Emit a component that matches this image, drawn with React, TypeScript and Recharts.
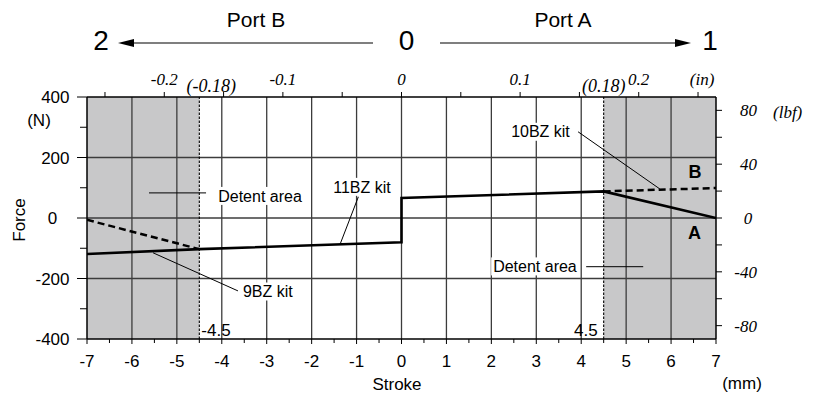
import React from "react";
import {
  ComposedChart,
  Line,
  XAxis,
  YAxis,
  ReferenceArea,
  ReferenceLine,
  ReferenceDot,
} from "recharts";

const W = 821;
const H = 394;
// plot frame
const PL = 87;
const PR = 716;
const PT = 97;
const PB = 339;
const SANS = "'Liberation Sans', Arial, Helvetica, sans-serif";
const SERIF = "'Liberation Serif', 'Times New Roman', serif";
const N_PER_LBF = 4.448;
const MM_PER_IN = 26.4; // inch scale as printed on the sheet (a bit stretched)

// curves (stroke in mm, force in N)
const mainStroke = [-7, -4.5, 0, 0, 4.5, 7];
const mainForce = [-119, -103, -80, 66, 88, 0];
const kit9Stroke = [-7, -4.5];
const kit9Force = [-6, -103];
const kit10Stroke = [4.5, 7];
const kit10Force = [88, 99];

const detentFrom = [-7, 4.5];
const detentTo = [-4.5, 7];
const detentLimits = [-4.5, 4.5];
const detentLimitInch = ["(-0.18)", "(0.18)"];
const detentLimitMm = ["-4.5", "4.5"];

// axes
const strokeTicks = [
  -7, -6.5, -6, -5.5, -5, -4.5, -4, -3.5, -3, -2.5, -2, -1.5, -1, -0.5, 0,
  0.5, 1, 1.5, 2, 2.5, 3, 3.5, 4, 4.5, 5, 5.5, 6, 6.5, 7,
];
const forceTicks = [-400, -300, -200, -100, 0, 100, 200, 300, 400];
const lbfTicks = [-80, -60, -40, -20, 0, 20, 40, 60, 80];
const inchTicks = [-0.25, -0.2, -0.15, -0.1, -0.05, 0, 0.05, 0.1, 0.15, 0.2, 0.25];
const inchLabels = ["", "-0.2", "", "-0.1", "", "0", "", "0.1", "", "0.2", "(in)"];
const gridStroke = [-6, -5, -4, -3, -2, -1, 0, 1, 2, 3, 4, 5, 6];
const gridForce = [-200, 0, 200];

// callouts
const noteText = ["Detent area", "11BZ kit", "9BZ kit", "10BZ kit", "Detent area"];
const noteAt = [[-4.08, 73], [-1.52, 103], [-3.53, -243], [2.44, 285], [2.04, -160]];
const leaderFrom = [[-5.62, 83], [-0.96, 70], [-5.53, -115], [3.93, 285], [4.11, -161]];
const leaderTo = [[-4.35, 83], [-1.37, -88], [-3.64, -241], [5.75, 96], [5.38, -161]];
const curveNames = ["B", "A"];
const curveNameAt = [[6.53, 154], [6.52, -48]];

const toPoints = (xs: number[], ys: number[]) => xs.map((x, i) => ({ x, y: ys[i] }));

const topTickInfo = [
  ...inchTicks.map((v, i) => ({ mm: Math.round(v * MM_PER_IN * 1000) / 1000, label: inchLabels[i], mark: true })),
  ...detentLimits.map((mm, i) => ({ mm, label: detentLimitInch[i], mark: false })),
].sort((a, b) => a.mm - b.mm);
const topTickValues = topTickInfo.map((t) => t.mm);

const BottomTick = (p: any) => {
  const cx = p.payload.coordinate;
  const v = p.payload.value;
  const major = Number.isInteger(v);
  return (
    <g>
      <line x1={cx} x2={cx} y1={PB} y2={PB + (major ? 5 : 4)} stroke="#000" />
      {major && (
        <text x={cx} y={367} textAnchor="middle" fontSize={17} fontFamily={SANS} fill="#000">
          {v}
        </text>
      )}
    </g>
  );
};

const LeftTick = (p: any) => {
  const cy = p.payload.coordinate;
  const v = p.payload.value;
  const major = v % 200 === 0;
  return (
    <g>
      <line x1={PL - (major ? 10 : 7)} x2={PL} y1={cy} y2={cy} stroke="#000" />
      {major && (
        <text
          x={v === 0 ? 52.5 : 69.5}
          y={cy + 6}
          textAnchor={v === 0 ? "middle" : "end"}
          fontSize={17}
          fontFamily={SANS}
          fill="#000"
        >
          {v}
        </text>
      )}
    </g>
  );
};

const RightTick = (p: any) => {
  const cy = p.payload.coordinate;
  const v = p.payload.value;
  const major = v % 40 === 0;
  return (
    <g>
      <line x1={PR} x2={PR + 6} y1={cy} y2={cy} stroke="#000" />
      {major && (
        <text
          x={v === 0 ? 748 : 757}
          y={cy + 6}
          textAnchor={v === 0 ? "middle" : "end"}
          fontSize={17}
          fontStyle="italic"
          fontFamily={SERIF}
          fill="#000"
        >
          {v}
        </text>
      )}
    </g>
  );
};

const TopTick = (p: any) => {
  const cx = p.payload.coordinate;
  const info =
    topTickInfo.find((t) => Math.abs(t.mm - p.payload.value) < 1e-3) ?? topTickInfo[p.index];
  if (!info) return null;
  const dx = info.label === "(-0.18)" ? 12 : info.label === "(in)" ? 4 : 0;
  return (
    <g>
      {info.mark && <line x1={cx} x2={cx} y1={PT - 5} y2={PT} stroke="#000" />}
      {info.label && (
        <text
          x={cx + dx}
          y={info.mark ? 85 : 92}
          textAnchor="middle"
          fontSize={info.mark ? 17 : 18}
          fontStyle="italic"
          fontFamily={SERIF}
          fill="#000"
        >
          {info.label}
        </text>
      )}
    </g>
  );
};

const NoteBox = ({ cx, cy, text }: { cx: number; cy: number; text: string }) => (
  <g>
    <rect x={cx - 2} y={cy - 9} width={text.length * 7.4 + 4} height={18} fill="#fff" />
    <text x={cx} y={cy + 5.7} fontSize={16} fontFamily={SANS} fill="#000">
      {text}
    </text>
  </g>
);

const Overlay = () => (
  <svg
    width={W}
    height={H}
    style={{ position: "absolute", left: 0, top: 0, pointerEvents: "none" }}
  >
    <g fontFamily={SANS} fill="#000">
      <text x={256} y={26.5} fontSize={21} textAnchor="middle">Port B</text>
      <text x={563} y={26.5} fontSize={21} textAnchor="middle">Port A</text>
      <text x={101} y={50} fontSize={28} textAnchor="middle">2</text>
      <text x={406.5} y={50} fontSize={28} textAnchor="middle">0</text>
      <text x={710} y={50} fontSize={28} textAnchor="middle">1</text>
      <line x1={132} x2={373} y1={43} y2={43} stroke="#000" strokeWidth={1.2} />
      <polygon points="118,43 134,39 134,47" />
      <line x1={440} x2={677} y1={43} y2={43} stroke="#000" strokeWidth={1.2} />
      <polygon points="691,43 675,39 675,47" />
      <text x={39} y={126} fontSize={17} textAnchor="middle">(N)</text>
      <text x={0} y={0} fontSize={17} textAnchor="middle" transform="translate(24.5,220) rotate(-90)">
        Force
      </text>
      <text x={397} y={390} fontSize={17} textAnchor="middle">Stroke</text>
      <text x={742} y={389} fontSize={17} textAnchor="middle">(mm)</text>
      <text x={773} y={118} fontSize={17} fontStyle="italic" fontFamily={SERIF}>(lbf)</text>
    </g>
  </svg>
);

export default function App() {
  const axisLine = { stroke: "#000", strokeWidth: 1.5 };
  return (
    <div style={{ position: "relative", width: W, height: H, background: "#fff" }}>
      <style>{"body{margin:0}"}</style>
      <ComposedChart
        width={W}
        height={H}
        margin={{ top: PT - 30, right: W - PR - 60, bottom: H - PB - 30, left: PL - 60 }}
      >
        <XAxis
          xAxisId="b"
          type="number"
          dataKey="x"
          domain={[-7, 7]}
          ticks={strokeTicks}
          interval={0}
          allowDataOverflow
          height={30}
          tickLine={false}
          axisLine={axisLine}
          tick={<BottomTick />}
        />
        <XAxis
          xAxisId="t"
          orientation="top"
          type="number"
          dataKey="x"
          domain={[-7, 7]}
          ticks={topTickValues}
          interval={0}
          allowDataOverflow
          height={30}
          tickLine={false}
          axisLine={axisLine}
          tick={<TopTick />}
        />
        <YAxis
          yAxisId="n"
          type="number"
          domain={[-400, 400]}
          ticks={forceTicks}
          interval={0}
          allowDataOverflow
          width={60}
          tickLine={false}
          axisLine={axisLine}
          tick={<LeftTick />}
        />
        <YAxis
          yAxisId="lbf"
          orientation="right"
          type="number"
          domain={[-400 / N_PER_LBF, 400 / N_PER_LBF]}
          ticks={lbfTicks}
          interval={0}
          allowDataOverflow
          width={60}
          tickLine={false}
          axisLine={axisLine}
          tick={<RightTick />}
        />

        {detentFrom.map((x1, i) => (
          <ReferenceArea
            key={"z" + i}
            xAxisId="b"
            yAxisId="n"
            x1={x1}
            x2={detentTo[i]}
            y1={-400}
            y2={400}
            fill="#c8c8c9"
            fillOpacity={1}
            stroke="none"
            zIndex={-20}
          />
        ))}
        {gridStroke.map((x) => (
          <ReferenceLine key={"gx" + x} xAxisId="b" yAxisId="n" x={x} stroke="#3c3c3c" strokeWidth={1.3} zIndex={-10} />
        ))}
        {gridForce.map((y) => (
          <ReferenceLine key={"gy" + y} xAxisId="b" yAxisId="n" y={y} stroke="#3c3c3c" strokeWidth={1.3} zIndex={-10} />
        ))}
        {detentLimits.map((x) => (
          <ReferenceLine
            key={"d" + x}
            xAxisId="b"
            yAxisId="n"
            x={x}
            stroke="#000"
            strokeWidth={1.1}
            strokeDasharray="2.5 1.5"
            zIndex={-5}
          />
        ))}

        {/* ties the inch axis to a series so it gets laid out */}
        <Line
          xAxisId="t"
          yAxisId="lbf"
          data={toPoints(mainStroke, mainForce)}
          dataKey="y"
          stroke="none"
          dot={false}
          activeDot={false}
          legendType="none"
          isAnimationActive={false}
        />
        <Line
          xAxisId="b"
          yAxisId="n"
          data={toPoints(kit9Stroke, kit9Force)}
          dataKey="y"
          stroke="#000"
          strokeWidth={2.5}
          strokeDasharray="7 4"
          dot={false}
          activeDot={false}
          isAnimationActive={false}
        />
        <Line
          xAxisId="b"
          yAxisId="n"
          data={toPoints(kit10Stroke, kit10Force)}
          dataKey="y"
          stroke="#000"
          strokeWidth={2.5}
          strokeDasharray="7 4"
          dot={false}
          activeDot={false}
          isAnimationActive={false}
        />
        <Line
          xAxisId="b"
          yAxisId="n"
          data={toPoints(mainStroke, mainForce)}
          dataKey="y"
          stroke="#000"
          strokeWidth={2.6}
          dot={false}
          activeDot={false}
          isAnimationActive={false}
        />

        {leaderFrom.map((a, i) => (
          <ReferenceLine
            key={"l" + i}
            xAxisId="b"
            yAxisId="n"
            segment={[
              { x: a[0], y: a[1] },
              { x: leaderTo[i][0], y: leaderTo[i][1] },
            ]}
            stroke="#000"
            strokeWidth={1}
          />
        ))}
        {noteText.map((t, i) => (
          <ReferenceDot
            key={"n" + i}
            xAxisId="b"
            yAxisId="n"
            x={noteAt[i][0]}
            y={noteAt[i][1]}
            r={0}
            zIndex={800}
            shape={(p: any) => <NoteBox cx={p.cx} cy={p.cy} text={t} />}
          />
        ))}
        {curveNames.map((t, i) => (
          <ReferenceDot
            key={"c" + i}
            xAxisId="b"
            yAxisId="n"
            x={curveNameAt[i][0]}
            y={curveNameAt[i][1]}
            r={0}
            zIndex={800}
            shape={(p: any) => (
              <text x={p.cx} y={p.cy + 6.5} textAnchor="middle" fontSize={18} fontWeight="bold" fontFamily={SANS} fill="#000">
                {t}
              </text>
            )}
          />
        ))}
        {detentLimits.map((x, i) => (
          <ReferenceDot
            key={"m" + i}
            xAxisId="b"
            yAxisId="n"
            x={x}
            y={-369}
            r={0}
            zIndex={800}
            shape={(p: any) => (
              <text
                x={p.cx + (i === 0 ? 2 : -6)}
                y={p.cy + 6}
                textAnchor={i === 0 ? "start" : "end"}
                fontSize={17}
                fontFamily={SANS}
                fill="#000"
              >
                {detentLimitMm[i]}
              </text>
            )}
          />
        ))}
      </ComposedChart>
      <Overlay />
    </div>
  );
}
